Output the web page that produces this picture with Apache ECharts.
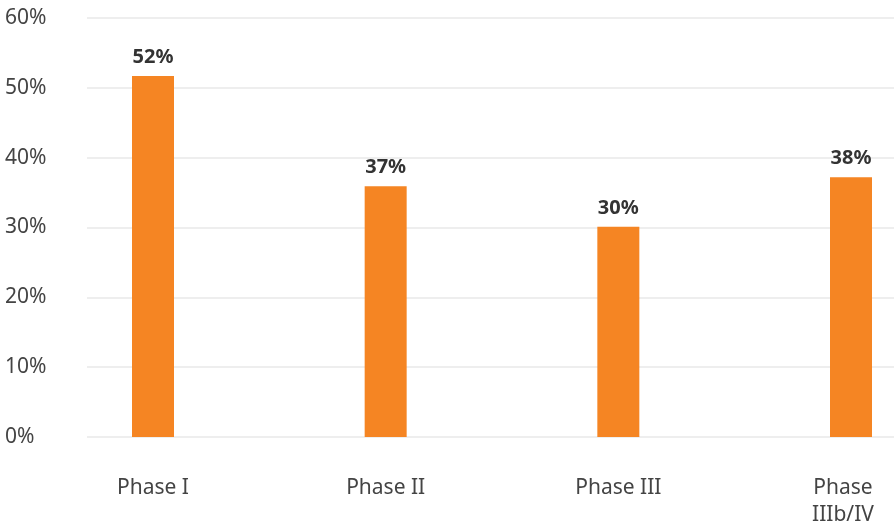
<!DOCTYPE html>
<html>
<head>
<meta charset="utf-8">
<script src="https://cdn.jsdelivr.net/npm/echarts@6/dist/echarts.min.js"></script>
<style>
html,body{margin:0;padding:0;background:#fff;}
#chart{width:894px;height:523px;}
</style>
</head>
<body>
<div id="chart"></div>
<script>
const categories = ['Phase I', 'Phase II', 'Phase III', 'Phase\nIIIb/IV'];
const values = [51.7, 35.9, 30.1, 37.2];
const valueLabels = ['52%', '37%', '30%', '38%'];
const yTicks = [0, 10, 20, 30, 40, 50, 60];

const chart = echarts.init(document.getElementById('chart'), null, {renderer: 'canvas'});
const FONT = '"Noto Sans", "Open Sans", sans-serif';
const catData = categories.map((c, i) => i === categories.length - 1
  ? {value: c, textStyle: {padding: [0, 16, 0, 0]}} : c);
chart.setOption({
  animation: false,
  backgroundColor: '#ffffff',
  grid: [
    {left: 87, right: 0, top: 18, bottom: 86, containLabel: false, outerBoundsMode: 'none'},
    {left: 153, right: 43, top: 18, bottom: 86, containLabel: false, outerBoundsMode: 'none'}
  ],
  xAxis: [
    {gridIndex: 0, type: 'value', min: 0, max: 1, show: false},
    {gridIndex: 1, type: 'category', data: catData, boundaryGap: false,
     axisLine: {show: false}, axisTick: {show: false}, splitLine: {show: false},
     axisLabel: {color: '#444', fontSize: 21, fontFamily: FONT, margin: 38, lineHeight: 27}}
  ],
  yAxis: [
    {gridIndex: 0, type: 'value', min: yTicks[0], max: yTicks[yTicks.length-1], interval: 10,
     axisLine: {show: false}, axisTick: {show: false},
     axisLabel: {color: '#444', fontSize: 21, fontFamily: FONT, margin: 82, align: 'left',
                 padding: [3, 0, 0, 0], formatter: v => v + '%'},
     splitLine: {lineStyle: {color: '#eeeeee', width: 2}}},
    {gridIndex: 1, type: 'value', min: yTicks[0], max: yTicks[yTicks.length-1], show: false}
  ],
  series: [{
    type: 'bar',
    xAxisIndex: 1, yAxisIndex: 1,
    data: values,
    barWidth: 42,
    itemStyle: {color: '#f58523'},
    label: {
      show: true, position: 'top', distance: 9,
      formatter: p => valueLabels[p.dataIndex],
      color: '#333', fontSize: 20, fontWeight: 'bold', fontFamily: FONT
    }
  }]
});
</script>
</body>
</html>
